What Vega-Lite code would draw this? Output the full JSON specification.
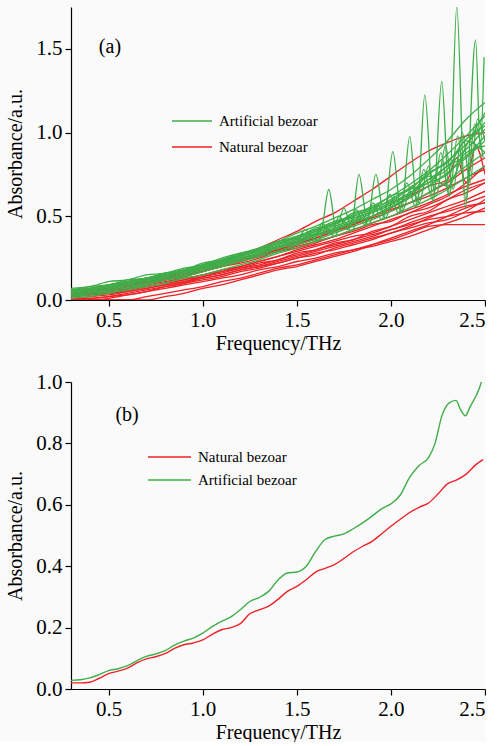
{
"$schema":"https://vega.github.io/schema/vega-lite/v6.json",
"background":"#fafafa",
"padding":{"left":5,"top":7,"right":0,"bottom":0},
"spacing":82,
"bounds":"flush",
"config":{
 "view":{"stroke":null},
 "font":"Liberation Serif",
 "axis":{"grid":false,"domainColor":"#000","tickColor":"#000","labelColor":"#000","titleColor":"#000","labelFont":"Liberation Serif","titleFont":"Liberation Serif","labelFontSize":21,"titleFontSize":20,"titleFontWeight":"normal","tickSize":6,"domainWidth":1.2,"tickWidth":1.2,"labelPadding":3},
 "axisY":{"titlePadding":10},
 "axisX":{"titlePadding":3},
 "legend":{"orient":"none","title":null,"symbolType":"stroke","symbolStrokeWidth":1.5,"labelFont":"Liberation Serif","labelFontSize":15,"labelColor":"#000","labelOffset":6,"clipHeight":16,"padding":0}
},
"resolve":{"scale":{"color":"independent"},"legend":{"color":"independent"}},
"vconcat":[
{
 "width":414,"height":293,
 "layer":[
  {"data":{"name":"a"},"transform":[{"filter":"datum.g=='N'"}],
   "mark":{"type":"line","strokeWidth":1.3,"clip":true,"interpolate":"monotone"},
   "encoding":{
    "x":{"field":"f","type":"quantitative","scale":{"domain":[0.3,2.5],"nice":false,"zero":false},"axis":{"values":[0.5,1,1.5,2,2.5],"format":".1f","title":"Frequency/THz"}},
    "y":{"field":"a","type":"quantitative","scale":{"domain":[0,1.75],"nice":false},"axis":{"values":[0,0.5,1,1.5],"format":".1f","title":"Absorbance/a.u."}},
    "color":{"field":"g","type":"nominal","scale":{"domain":["A","N"],"range":["#3eae49","#ec2227"]},"legend":{"labelExpr":"datum.label=='A'?'Artificial bezoar':'Natural bezoar'","legendX":100,"legendY":106,"symbolSize":1600,"rowPadding":10}},
    "detail":{"field":"s"}}},
  {"data":{"name":"a"},"transform":[{"filter":"datum.g=='A'"}],
   "mark":{"type":"line","strokeWidth":1.3,"clip":true,"interpolate":"monotone"},
   "encoding":{
    "x":{"field":"f","type":"quantitative"},
    "y":{"field":"a","type":"quantitative"},
    "color":{"field":"g","type":"nominal","scale":{"domain":["A","N"],"range":["#3eae49","#ec2227"]},"legend":{"labelExpr":"datum.label=='A'?'Artificial bezoar':'Natural bezoar'","legendX":100,"legendY":106,"symbolSize":1600,"rowPadding":10}},
    "detail":{"field":"s"}}},
  {"data":{"values":[{}]},"mark":{"type":"text","fontSize":20,"font":"Liberation Serif","color":"#000"},
   "encoding":{"x":{"datum":0.507},"y":{"datum":1.512},"text":{"value":"(a)"}}}
 ]
},
{
 "width":414,"height":307,
 "layer":[
  {"data":{"name":"b"},
   "mark":{"type":"line","strokeWidth":1.4,"clip":true,"interpolate":"monotone"},
   "encoding":{
    "x":{"field":"f","type":"quantitative","scale":{"domain":[0.3,2.5],"nice":false,"zero":false},"axis":{"values":[0.5,1,1.5,2,2.5],"format":".1f","title":"Frequency/THz"}},
    "y":{"field":"a","type":"quantitative","scale":{"domain":[0,1],"nice":false},"axis":{"values":[0,0.2,0.4,0.6,0.8,1],"format":".1f","title":"Absorbance/a.u."}},
    "color":{"field":"g","type":"nominal","scale":{"domain":["N","A"],"range":["#ec2227","#3eae49"]},"legend":{"labelExpr":"datum.label=='A'?'Artificial bezoar':'Natural bezoar'","legendX":76,"legendY":67,"symbolSize":1849,"rowPadding":7}},
    "detail":{"field":"s"}}},
  {"data":{"values":[{}]},"mark":{"type":"text","fontSize":20,"font":"Liberation Serif","color":"#000"},
   "encoding":{"x":{"datum":0.598},"y":{"datum":0.893},"text":{"value":"(b)"}}}
 ]
}
],
"datasets":{
"b":[
{"s":"A","g":"A","f":0.3,"a":0.028},{"s":"A","g":"A","f":0.35,"a":0.03},{"s":"A","g":"A","f":0.4,"a":0.036},{"s":"A","g":"A","f":0.45,"a":0.047},{"s":"A","g":"A","f":0.5,"a":0.06},{"s":"A","g":"A","f":0.55,"a":0.066},{"s":"A","g":"A","f":0.6,"a":0.076},{"s":"A","g":"A","f":0.65,"a":0.092},{"s":"A","g":"A","f":0.7,"a":0.106},{"s":"A","g":"A","f":0.75,"a":0.114},{"s":"A","g":"A","f":0.8,"a":0.125},{"s":"A","g":"A","f":0.85,"a":0.143},{"s":"A","g":"A","f":0.9,"a":0.156},{"s":"A","g":"A","f":0.95,"a":0.166},{"s":"A","g":"A","f":1.0,"a":0.182},{"s":"A","g":"A","f":1.05,"a":0.203},{"s":"A","g":"A","f":1.1,"a":0.22},{"s":"A","g":"A","f":1.15,"a":0.235},{"s":"A","g":"A","f":1.2,"a":0.258},{"s":"A","g":"A","f":1.25,"a":0.285},{"s":"A","g":"A","f":1.3,"a":0.298},{"s":"A","g":"A","f":1.35,"a":0.318},{"s":"A","g":"A","f":1.4,"a":0.355},{"s":"A","g":"A","f":1.45,"a":0.378},{"s":"A","g":"A","f":1.5,"a":0.381},{"s":"A","g":"A","f":1.55,"a":0.4},{"s":"A","g":"A","f":1.6,"a":0.448},{"s":"A","g":"A","f":1.65,"a":0.487},{"s":"A","g":"A","f":1.7,"a":0.498},{"s":"A","g":"A","f":1.75,"a":0.505},{"s":"A","g":"A","f":1.8,"a":0.522},{"s":"A","g":"A","f":1.85,"a":0.541},{"s":"A","g":"A","f":1.9,"a":0.563},{"s":"A","g":"A","f":1.95,"a":0.587},{"s":"A","g":"A","f":2.0,"a":0.603},{"s":"A","g":"A","f":2.05,"a":0.632},{"s":"A","g":"A","f":2.1,"a":0.69},{"s":"A","g":"A","f":2.15,"a":0.728},{"s":"A","g":"A","f":2.2,"a":0.754},{"s":"A","g":"A","f":2.235,"a":0.801},{"s":"A","g":"A","f":2.27,"a":0.888},{"s":"A","g":"A","f":2.31,"a":0.932},{"s":"A","g":"A","f":2.346,"a":0.94},{"s":"A","g":"A","f":2.37,"a":0.91},{"s":"A","g":"A","f":2.396,"a":0.89},{"s":"A","g":"A","f":2.42,"a":0.918},{"s":"A","g":"A","f":2.47,"a":0.98},{"s":"A","g":"A","f":2.493,"a":1.024},
{"s":"N","g":"N","f":0.3,"a":0.02},{"s":"N","g":"N","f":0.35,"a":0.02},{"s":"N","g":"N","f":0.4,"a":0.022},{"s":"N","g":"N","f":0.45,"a":0.035},{"s":"N","g":"N","f":0.5,"a":0.05},{"s":"N","g":"N","f":0.55,"a":0.058},{"s":"N","g":"N","f":0.6,"a":0.068},{"s":"N","g":"N","f":0.65,"a":0.085},{"s":"N","g":"N","f":0.7,"a":0.098},{"s":"N","g":"N","f":0.75,"a":0.105},{"s":"N","g":"N","f":0.8,"a":0.115},{"s":"N","g":"N","f":0.85,"a":0.132},{"s":"N","g":"N","f":0.9,"a":0.144},{"s":"N","g":"N","f":0.95,"a":0.15},{"s":"N","g":"N","f":1.0,"a":0.16},{"s":"N","g":"N","f":1.05,"a":0.178},{"s":"N","g":"N","f":1.1,"a":0.193},{"s":"N","g":"N","f":1.15,"a":0.2},{"s":"N","g":"N","f":1.2,"a":0.213},{"s":"N","g":"N","f":1.25,"a":0.245},{"s":"N","g":"N","f":1.3,"a":0.258},{"s":"N","g":"N","f":1.35,"a":0.27},{"s":"N","g":"N","f":1.4,"a":0.292},{"s":"N","g":"N","f":1.45,"a":0.318},{"s":"N","g":"N","f":1.5,"a":0.334},{"s":"N","g":"N","f":1.55,"a":0.356},{"s":"N","g":"N","f":1.6,"a":0.381},{"s":"N","g":"N","f":1.65,"a":0.393},{"s":"N","g":"N","f":1.7,"a":0.405},{"s":"N","g":"N","f":1.75,"a":0.425},{"s":"N","g":"N","f":1.8,"a":0.447},{"s":"N","g":"N","f":1.85,"a":0.465},{"s":"N","g":"N","f":1.9,"a":0.481},{"s":"N","g":"N","f":1.95,"a":0.505},{"s":"N","g":"N","f":2.0,"a":0.53},{"s":"N","g":"N","f":2.05,"a":0.553},{"s":"N","g":"N","f":2.1,"a":0.575},{"s":"N","g":"N","f":2.15,"a":0.592},{"s":"N","g":"N","f":2.2,"a":0.606},{"s":"N","g":"N","f":2.25,"a":0.635},{"s":"N","g":"N","f":2.3,"a":0.668},{"s":"N","g":"N","f":2.35,"a":0.681},{"s":"N","g":"N","f":2.4,"a":0.7},{"s":"N","g":"N","f":2.45,"a":0.73},{"s":"N","g":"N","f":2.49,"a":0.747}
],
"a":[
{"s":"g1","g":"A","f":0.3,"a":0.05},{"s":"g1","g":"A","f":0.4,"a":0.06},{"s":"g1","g":"A","f":0.5,"a":0.08},{"s":"g1","g":"A","f":0.6,"a":0.1},{"s":"g1","g":"A","f":0.7,"a":0.12},{"s":"g1","g":"A","f":0.8,"a":0.15},{"s":"g1","g":"A","f":0.9,"a":0.17},{"s":"g1","g":"A","f":1.0,"a":0.2},{"s":"g1","g":"A","f":1.1,"a":0.23},{"s":"g1","g":"A","f":1.2,"a":0.26},{"s":"g1","g":"A","f":1.3,"a":0.29},{"s":"g1","g":"A","f":1.4,"a":0.32},{"s":"g1","g":"A","f":1.5,"a":0.36},{"s":"g1","g":"A","f":1.58,"a":0.38},{"s":"g1","g":"A","f":1.63,"a":0.42},{"s":"g1","g":"A","f":1.67,"a":0.66},{"s":"g1","g":"A","f":1.71,"a":0.42},{"s":"g1","g":"A","f":1.75,"a":0.55},{"s":"g1","g":"A","f":1.79,"a":0.44},{"s":"g1","g":"A","f":1.83,"a":0.75},{"s":"g1","g":"A","f":1.875,"a":0.47},{"s":"g1","g":"A","f":1.92,"a":0.75},{"s":"g1","g":"A","f":1.965,"a":0.5},{"s":"g1","g":"A","f":2.01,"a":0.886},{"s":"g1","g":"A","f":2.055,"a":0.52},{"s":"g1","g":"A","f":2.1,"a":0.976},{"s":"g1","g":"A","f":2.14,"a":0.55},{"s":"g1","g":"A","f":2.18,"a":1.225},{"s":"g1","g":"A","f":2.225,"a":0.58},{"s":"g1","g":"A","f":2.27,"a":1.305},{"s":"g1","g":"A","f":2.31,"a":0.62},{"s":"g1","g":"A","f":2.35,"a":1.75},{"s":"g1","g":"A","f":2.395,"a":0.55},{"s":"g1","g":"A","f":2.45,"a":1.554},{"s":"g1","g":"A","f":2.475,"a":0.9},{"s":"g1","g":"A","f":2.495,"a":1.45},
{"s":"g2","g":"A","f":0.3,"a":0.07},{"s":"g2","g":"A","f":0.4,"a":0.08},{"s":"g2","g":"A","f":0.5,"a":0.11},{"s":"g2","g":"A","f":0.6,"a":0.12},{"s":"g2","g":"A","f":0.7,"a":0.15},{"s":"g2","g":"A","f":0.8,"a":0.16},{"s":"g2","g":"A","f":0.9,"a":0.19},{"s":"g2","g":"A","f":1.0,"a":0.21},{"s":"g2","g":"A","f":1.1,"a":0.25},{"s":"g2","g":"A","f":1.2,"a":0.28},{"s":"g2","g":"A","f":1.3,"a":0.31},{"s":"g2","g":"A","f":1.4,"a":0.35},{"s":"g2","g":"A","f":1.5,"a":0.4},{"s":"g2","g":"A","f":1.6,"a":0.44},{"s":"g2","g":"A","f":1.7,"a":0.49},{"s":"g2","g":"A","f":1.8,"a":0.54},{"s":"g2","g":"A","f":1.9,"a":0.6},{"s":"g2","g":"A","f":2.0,"a":0.66},{"s":"g2","g":"A","f":2.1,"a":0.74},{"s":"g2","g":"A","f":2.2,"a":0.84},{"s":"g2","g":"A","f":2.3,"a":0.95},{"s":"g2","g":"A","f":2.4,"a":1.08},{"s":"g2","g":"A","f":2.5,"a":1.18},
{"s":"g3","g":"A","f":0.3,"a":0.05},{"s":"g3","g":"A","f":0.4,"a":0.07},{"s":"g3","g":"A","f":0.5,"a":0.09},{"s":"g3","g":"A","f":0.6,"a":0.11},{"s":"g3","g":"A","f":0.7,"a":0.13},{"s":"g3","g":"A","f":0.8,"a":0.15},{"s":"g3","g":"A","f":0.9,"a":0.18},{"s":"g3","g":"A","f":1.0,"a":0.21},{"s":"g3","g":"A","f":1.1,"a":0.23},{"s":"g3","g":"A","f":1.2,"a":0.27},{"s":"g3","g":"A","f":1.3,"a":0.3},{"s":"g3","g":"A","f":1.4,"a":0.33},{"s":"g3","g":"A","f":1.5,"a":0.38},{"s":"g3","g":"A","f":1.6,"a":0.42},{"s":"g3","g":"A","f":1.7,"a":0.46},{"s":"g3","g":"A","f":1.8,"a":0.51},{"s":"g3","g":"A","f":1.9,"a":0.56},{"s":"g3","g":"A","f":2.0,"a":0.62},{"s":"g3","g":"A","f":2.1,"a":0.69},{"s":"g3","g":"A","f":2.2,"a":0.77},{"s":"g3","g":"A","f":2.3,"a":0.87},{"s":"g3","g":"A","f":2.4,"a":0.98},{"s":"g3","g":"A","f":2.5,"a":1.1},
{"s":"g4","g":"A","f":0.3,"a":0.04},{"s":"g4","g":"A","f":0.4,"a":0.05},{"s":"g4","g":"A","f":0.5,"a":0.07},{"s":"g4","g":"A","f":0.6,"a":0.1},{"s":"g4","g":"A","f":0.7,"a":0.12},{"s":"g4","g":"A","f":0.8,"a":0.14},{"s":"g4","g":"A","f":0.9,"a":0.17},{"s":"g4","g":"A","f":1.0,"a":0.19},{"s":"g4","g":"A","f":1.1,"a":0.22},{"s":"g4","g":"A","f":1.2,"a":0.26},{"s":"g4","g":"A","f":1.3,"a":0.29},{"s":"g4","g":"A","f":1.4,"a":0.33},{"s":"g4","g":"A","f":1.5,"a":0.36},{"s":"g4","g":"A","f":1.6,"a":0.4},{"s":"g4","g":"A","f":1.7,"a":0.44},{"s":"g4","g":"A","f":1.8,"a":0.48},{"s":"g4","g":"A","f":1.9,"a":0.53},{"s":"g4","g":"A","f":2.0,"a":0.58},{"s":"g4","g":"A","f":2.1,"a":0.64},{"s":"g4","g":"A","f":2.2,"a":0.72},{"s":"g4","g":"A","f":2.3,"a":0.8},{"s":"g4","g":"A","f":2.4,"a":0.9},{"s":"g4","g":"A","f":2.5,"a":1.02},
{"s":"g5","g":"A","f":0.3,"a":0.03},{"s":"g5","g":"A","f":0.4,"a":0.04},{"s":"g5","g":"A","f":0.5,"a":0.06},{"s":"g5","g":"A","f":0.6,"a":0.08},{"s":"g5","g":"A","f":0.7,"a":0.1},{"s":"g5","g":"A","f":0.8,"a":0.13},{"s":"g5","g":"A","f":0.9,"a":0.15},{"s":"g5","g":"A","f":1.0,"a":0.18},{"s":"g5","g":"A","f":1.1,"a":0.21},{"s":"g5","g":"A","f":1.2,"a":0.24},{"s":"g5","g":"A","f":1.3,"a":0.27},{"s":"g5","g":"A","f":1.4,"a":0.31},{"s":"g5","g":"A","f":1.5,"a":0.34},{"s":"g5","g":"A","f":1.6,"a":0.38},{"s":"g5","g":"A","f":1.7,"a":0.42},{"s":"g5","g":"A","f":1.8,"a":0.46},{"s":"g5","g":"A","f":1.9,"a":0.5},{"s":"g5","g":"A","f":2.0,"a":0.55},{"s":"g5","g":"A","f":2.1,"a":0.61},{"s":"g5","g":"A","f":2.2,"a":0.68},{"s":"g5","g":"A","f":2.3,"a":0.76},{"s":"g5","g":"A","f":2.4,"a":0.85},{"s":"g5","g":"A","f":2.5,"a":0.95},
{"s":"g6","g":"A","f":0.3,"a":0.02},{"s":"g6","g":"A","f":0.4,"a":0.04},{"s":"g6","g":"A","f":0.5,"a":0.05},{"s":"g6","g":"A","f":0.6,"a":0.07},{"s":"g6","g":"A","f":0.7,"a":0.09},{"s":"g6","g":"A","f":0.8,"a":0.12},{"s":"g6","g":"A","f":0.9,"a":0.14},{"s":"g6","g":"A","f":1.0,"a":0.17},{"s":"g6","g":"A","f":1.1,"a":0.2},{"s":"g6","g":"A","f":1.2,"a":0.23},{"s":"g6","g":"A","f":1.3,"a":0.26},{"s":"g6","g":"A","f":1.4,"a":0.29},{"s":"g6","g":"A","f":1.5,"a":0.33},{"s":"g6","g":"A","f":1.6,"a":0.36},{"s":"g6","g":"A","f":1.7,"a":0.4},{"s":"g6","g":"A","f":1.8,"a":0.44},{"s":"g6","g":"A","f":1.9,"a":0.48},{"s":"g6","g":"A","f":2.0,"a":0.53},{"s":"g6","g":"A","f":2.1,"a":0.58},{"s":"g6","g":"A","f":2.2,"a":0.64},{"s":"g6","g":"A","f":2.3,"a":0.71},{"s":"g6","g":"A","f":2.4,"a":0.8},{"s":"g6","g":"A","f":2.5,"a":0.88},
{"s":"g7","g":"A","f":0.3,"a":0.06},{"s":"g7","g":"A","f":0.4,"a":0.07},{"s":"g7","g":"A","f":0.5,"a":0.09},{"s":"g7","g":"A","f":0.6,"a":0.11},{"s":"g7","g":"A","f":0.7,"a":0.13},{"s":"g7","g":"A","f":0.8,"a":0.16},{"s":"g7","g":"A","f":0.9,"a":0.18},{"s":"g7","g":"A","f":1.0,"a":0.21},{"s":"g7","g":"A","f":1.1,"a":0.24},{"s":"g7","g":"A","f":1.2,"a":0.27},{"s":"g7","g":"A","f":1.3,"a":0.31},{"s":"g7","g":"A","f":1.4,"a":0.35},{"s":"g7","g":"A","f":1.5,"a":0.38},{"s":"g7","g":"A","f":1.6,"a":0.42},{"s":"g7","g":"A","f":1.7,"a":0.47},{"s":"g7","g":"A","f":1.8,"a":0.5},{"s":"g7","g":"A","f":1.9,"a":0.55},{"s":"g7","g":"A","f":2.0,"a":0.59},{"s":"g7","g":"A","f":2.1,"a":0.66},{"s":"g7","g":"A","f":2.2,"a":0.7},{"s":"g7","g":"A","f":2.3,"a":0.8},{"s":"g7","g":"A","f":2.4,"a":0.86},{"s":"g7","g":"A","f":2.5,"a":0.98},
{"s":"g8","g":"A","f":0.3,"a":0.01},{"s":"g8","g":"A","f":0.4,"a":0.02},{"s":"g8","g":"A","f":0.5,"a":0.04},{"s":"g8","g":"A","f":0.6,"a":0.06},{"s":"g8","g":"A","f":0.7,"a":0.08},{"s":"g8","g":"A","f":0.8,"a":0.1},{"s":"g8","g":"A","f":0.9,"a":0.13},{"s":"g8","g":"A","f":1.0,"a":0.15},{"s":"g8","g":"A","f":1.1,"a":0.18},{"s":"g8","g":"A","f":1.2,"a":0.21},{"s":"g8","g":"A","f":1.3,"a":0.24},{"s":"g8","g":"A","f":1.4,"a":0.28},{"s":"g8","g":"A","f":1.5,"a":0.31},{"s":"g8","g":"A","f":1.6,"a":0.35},{"s":"g8","g":"A","f":1.7,"a":0.38},{"s":"g8","g":"A","f":1.8,"a":0.42},{"s":"g8","g":"A","f":1.9,"a":0.46},{"s":"g8","g":"A","f":2.0,"a":0.5},{"s":"g8","g":"A","f":2.1,"a":0.55},{"s":"g8","g":"A","f":2.2,"a":0.6},{"s":"g8","g":"A","f":2.3,"a":0.66},{"s":"g8","g":"A","f":2.4,"a":0.73},{"s":"g8","g":"A","f":2.5,"a":0.8},
{"s":"g9","g":"A","f":0.3,"a":0.04},{"s":"g9","g":"A","f":0.4,"a":0.06},{"s":"g9","g":"A","f":0.5,"a":0.08},{"s":"g9","g":"A","f":0.6,"a":0.1},{"s":"g9","g":"A","f":0.7,"a":0.11},{"s":"g9","g":"A","f":0.8,"a":0.14},{"s":"g9","g":"A","f":0.9,"a":0.16},{"s":"g9","g":"A","f":1.0,"a":0.19},{"s":"g9","g":"A","f":1.1,"a":0.22},{"s":"g9","g":"A","f":1.2,"a":0.25},{"s":"g9","g":"A","f":1.3,"a":0.28},{"s":"g9","g":"A","f":1.4,"a":0.32},{"s":"g9","g":"A","f":1.5,"a":0.35},{"s":"g9","g":"A","f":1.6,"a":0.39},{"s":"g9","g":"A","f":1.7,"a":0.43},{"s":"g9","g":"A","f":1.8,"a":0.47},{"s":"g9","g":"A","f":1.9,"a":0.52},{"s":"g9","g":"A","f":2.0,"a":0.57},{"s":"g9","g":"A","f":2.1,"a":0.63},{"s":"g9","g":"A","f":2.2,"a":0.7},{"s":"g9","g":"A","f":2.3,"a":0.75},{"s":"g9","g":"A","f":2.4,"a":0.88},{"s":"g9","g":"A","f":2.5,"a":0.92},
{"s":"g10","g":"A","f":0.3,"a":0.03},{"s":"g10","g":"A","f":0.4,"a":0.05},{"s":"g10","g":"A","f":0.5,"a":0.07},{"s":"g10","g":"A","f":0.6,"a":0.09},{"s":"g10","g":"A","f":0.7,"a":0.12},{"s":"g10","g":"A","f":0.8,"a":0.14},{"s":"g10","g":"A","f":0.9,"a":0.17},{"s":"g10","g":"A","f":1.0,"a":0.2},{"s":"g10","g":"A","f":1.1,"a":0.23},{"s":"g10","g":"A","f":1.2,"a":0.26},{"s":"g10","g":"A","f":1.3,"a":0.3},{"s":"g10","g":"A","f":1.4,"a":0.34},{"s":"g10","g":"A","f":1.5,"a":0.37},{"s":"g10","g":"A","f":1.6,"a":0.41},{"s":"g10","g":"A","f":1.7,"a":0.45},{"s":"g10","g":"A","f":1.8,"a":0.5},{"s":"g10","g":"A","f":1.9,"a":0.54},{"s":"g10","g":"A","f":2.0,"a":0.6},{"s":"g10","g":"A","f":2.1,"a":0.67},{"s":"g10","g":"A","f":2.2,"a":0.75},{"s":"g10","g":"A","f":2.3,"a":0.83},{"s":"g10","g":"A","f":2.4,"a":0.93},{"s":"g10","g":"A","f":2.5,"a":1.06},
{"s":"g11","g":"A","f":0.3,"a":0.05},{"s":"g11","g":"A","f":0.4,"a":0.06},{"s":"g11","g":"A","f":0.5,"a":0.08},{"s":"g11","g":"A","f":0.6,"a":0.1},{"s":"g11","g":"A","f":0.7,"a":0.12},{"s":"g11","g":"A","f":0.8,"a":0.14},{"s":"g11","g":"A","f":0.9,"a":0.17},{"s":"g11","g":"A","f":1.0,"a":0.19},{"s":"g11","g":"A","f":1.1,"a":0.22},{"s":"g11","g":"A","f":1.2,"a":0.25},{"s":"g11","g":"A","f":1.3,"a":0.28},{"s":"g11","g":"A","f":1.4,"a":0.31},{"s":"g11","g":"A","f":1.5,"a":0.35},{"s":"g11","g":"A","f":1.545,"a":0.42},{"s":"g11","g":"A","f":1.59,"a":0.36},{"s":"g11","g":"A","f":1.635,"a":0.46},{"s":"g11","g":"A","f":1.68,"a":0.39},{"s":"g11","g":"A","f":1.725,"a":0.5},{"s":"g11","g":"A","f":1.77,"a":0.42},{"s":"g11","g":"A","f":1.815,"a":0.54},{"s":"g11","g":"A","f":1.86,"a":0.45},{"s":"g11","g":"A","f":1.905,"a":0.58},{"s":"g11","g":"A","f":1.95,"a":0.48},{"s":"g11","g":"A","f":1.995,"a":0.63},{"s":"g11","g":"A","f":2.04,"a":0.52},{"s":"g11","g":"A","f":2.085,"a":0.7},{"s":"g11","g":"A","f":2.13,"a":0.56},{"s":"g11","g":"A","f":2.175,"a":0.78},{"s":"g11","g":"A","f":2.22,"a":0.6},{"s":"g11","g":"A","f":2.265,"a":0.88},{"s":"g11","g":"A","f":2.31,"a":0.62},{"s":"g11","g":"A","f":2.355,"a":0.98},{"s":"g11","g":"A","f":2.4,"a":0.6},{"s":"g11","g":"A","f":2.445,"a":1.05},{"s":"g11","g":"A","f":2.49,"a":0.85},
{"s":"g12","g":"A","f":0.3,"a":0.02},{"s":"g12","g":"A","f":0.4,"a":0.03},{"s":"g12","g":"A","f":0.5,"a":0.05},{"s":"g12","g":"A","f":0.6,"a":0.07},{"s":"g12","g":"A","f":0.7,"a":0.09},{"s":"g12","g":"A","f":0.8,"a":0.12},{"s":"g12","g":"A","f":0.9,"a":0.14},{"s":"g12","g":"A","f":1.0,"a":0.17},{"s":"g12","g":"A","f":1.1,"a":0.2},{"s":"g12","g":"A","f":1.2,"a":0.23},{"s":"g12","g":"A","f":1.3,"a":0.26},{"s":"g12","g":"A","f":1.4,"a":0.29},{"s":"g12","g":"A","f":1.5,"a":0.33},{"s":"g12","g":"A","f":1.57,"a":0.39},{"s":"g12","g":"A","f":1.61,"a":0.35},{"s":"g12","g":"A","f":1.66,"a":0.43},{"s":"g12","g":"A","f":1.7,"a":0.38},{"s":"g12","g":"A","f":1.75,"a":0.47},{"s":"g12","g":"A","f":1.79,"a":0.41},{"s":"g12","g":"A","f":1.84,"a":0.52},{"s":"g12","g":"A","f":1.88,"a":0.45},{"s":"g12","g":"A","f":1.93,"a":0.57},{"s":"g12","g":"A","f":1.97,"a":0.49},{"s":"g12","g":"A","f":2.02,"a":0.62},{"s":"g12","g":"A","f":2.06,"a":0.53},{"s":"g12","g":"A","f":2.11,"a":0.68},{"s":"g12","g":"A","f":2.15,"a":0.58},{"s":"g12","g":"A","f":2.2,"a":0.8},{"s":"g12","g":"A","f":2.24,"a":0.62},{"s":"g12","g":"A","f":2.29,"a":0.92},{"s":"g12","g":"A","f":2.33,"a":0.66},{"s":"g12","g":"A","f":2.38,"a":1.0},{"s":"g12","g":"A","f":2.42,"a":0.7},{"s":"g12","g":"A","f":2.46,"a":1.08},{"s":"g12","g":"A","f":2.5,"a":0.95},
{"s":"g13","g":"A","f":0.3,"a":0.05},{"s":"g13","g":"A","f":0.4,"a":0.06},{"s":"g13","g":"A","f":0.5,"a":0.08},{"s":"g13","g":"A","f":0.6,"a":0.1},{"s":"g13","g":"A","f":0.7,"a":0.13},{"s":"g13","g":"A","f":0.8,"a":0.15},{"s":"g13","g":"A","f":0.9,"a":0.18},{"s":"g13","g":"A","f":1.0,"a":0.2},{"s":"g13","g":"A","f":1.1,"a":0.24},{"s":"g13","g":"A","f":1.2,"a":0.27},{"s":"g13","g":"A","f":1.3,"a":0.3},{"s":"g13","g":"A","f":1.4,"a":0.34},{"s":"g13","g":"A","f":1.5,"a":0.37},{"s":"g13","g":"A","f":1.6,"a":0.41},{"s":"g13","g":"A","f":1.7,"a":0.46},{"s":"g13","g":"A","f":1.8,"a":0.49},{"s":"g13","g":"A","f":1.9,"a":0.53},{"s":"g13","g":"A","f":2.0,"a":0.58},{"s":"g13","g":"A","f":2.1,"a":0.63},{"s":"g13","g":"A","f":2.2,"a":0.72},{"s":"g13","g":"A","f":2.3,"a":0.78},{"s":"g13","g":"A","f":2.4,"a":0.95},{"s":"g13","g":"A","f":2.5,"a":0.88},
{"s":"g14","g":"A","f":0.3,"a":0.06},{"s":"g14","g":"A","f":0.4,"a":0.08},{"s":"g14","g":"A","f":0.5,"a":0.09},{"s":"g14","g":"A","f":0.6,"a":0.12},{"s":"g14","g":"A","f":0.7,"a":0.13},{"s":"g14","g":"A","f":0.8,"a":0.16},{"s":"g14","g":"A","f":0.9,"a":0.18},{"s":"g14","g":"A","f":1.0,"a":0.22},{"s":"g14","g":"A","f":1.1,"a":0.24},{"s":"g14","g":"A","f":1.2,"a":0.28},{"s":"g14","g":"A","f":1.3,"a":0.3},{"s":"g14","g":"A","f":1.4,"a":0.35},{"s":"g14","g":"A","f":1.5,"a":0.37},{"s":"g14","g":"A","f":1.6,"a":0.43},{"s":"g14","g":"A","f":1.7,"a":0.45},{"s":"g14","g":"A","f":1.8,"a":0.52},{"s":"g14","g":"A","f":1.9,"a":0.55},{"s":"g14","g":"A","f":2.0,"a":0.62},{"s":"g14","g":"A","f":2.1,"a":0.66},{"s":"g14","g":"A","f":2.2,"a":0.76},{"s":"g14","g":"A","f":2.3,"a":0.82},{"s":"g14","g":"A","f":2.4,"a":0.96},{"s":"g14","g":"A","f":2.5,"a":1.04},
{"s":"g15","g":"A","f":0.3,"a":0.03},{"s":"g15","g":"A","f":0.4,"a":0.05},{"s":"g15","g":"A","f":0.5,"a":0.06},{"s":"g15","g":"A","f":0.6,"a":0.09},{"s":"g15","g":"A","f":0.7,"a":0.1},{"s":"g15","g":"A","f":0.8,"a":0.13},{"s":"g15","g":"A","f":0.9,"a":0.15},{"s":"g15","g":"A","f":1.0,"a":0.19},{"s":"g15","g":"A","f":1.1,"a":0.21},{"s":"g15","g":"A","f":1.2,"a":0.25},{"s":"g15","g":"A","f":1.3,"a":0.27},{"s":"g15","g":"A","f":1.4,"a":0.31},{"s":"g15","g":"A","f":1.5,"a":0.34},{"s":"g15","g":"A","f":1.6,"a":0.39},{"s":"g15","g":"A","f":1.7,"a":0.41},{"s":"g15","g":"A","f":1.8,"a":0.47},{"s":"g15","g":"A","f":1.9,"a":0.5},{"s":"g15","g":"A","f":2.0,"a":0.56},{"s":"g15","g":"A","f":2.1,"a":0.62},{"s":"g15","g":"A","f":2.2,"a":0.74},{"s":"g15","g":"A","f":2.3,"a":0.68},{"s":"g15","g":"A","f":2.4,"a":0.92},{"s":"g15","g":"A","f":2.5,"a":1.12},
{"s":"r1","g":"N","f":0.3,"a":0.0},{"s":"r1","g":"N","f":0.4,"a":0.0},{"s":"r1","g":"N","f":0.5,"a":0.0},{"s":"r1","g":"N","f":0.6,"a":0.0},{"s":"r1","g":"N","f":0.7,"a":0.02},{"s":"r1","g":"N","f":0.8,"a":0.04},{"s":"r1","g":"N","f":0.9,"a":0.06},{"s":"r1","g":"N","f":1.0,"a":0.08},{"s":"r1","g":"N","f":1.1,"a":0.11},{"s":"r1","g":"N","f":1.2,"a":0.13},{"s":"r1","g":"N","f":1.3,"a":0.16},{"s":"r1","g":"N","f":1.4,"a":0.19},{"s":"r1","g":"N","f":1.5,"a":0.21},{"s":"r1","g":"N","f":1.6,"a":0.24},{"s":"r1","g":"N","f":1.7,"a":0.27},{"s":"r1","g":"N","f":1.8,"a":0.3},{"s":"r1","g":"N","f":1.9,"a":0.33},{"s":"r1","g":"N","f":2.0,"a":0.36},{"s":"r1","g":"N","f":2.1,"a":0.4},{"s":"r1","g":"N","f":2.2,"a":0.44},{"s":"r1","g":"N","f":2.3,"a":0.45},{"s":"r1","g":"N","f":2.4,"a":0.45},{"s":"r1","g":"N","f":2.5,"a":0.45},
{"s":"r2","g":"N","f":0.3,"a":0.01},{"s":"r2","g":"N","f":0.4,"a":0.01},{"s":"r2","g":"N","f":0.5,"a":0.02},{"s":"r2","g":"N","f":0.6,"a":0.03},{"s":"r2","g":"N","f":0.7,"a":0.05},{"s":"r2","g":"N","f":0.8,"a":0.07},{"s":"r2","g":"N","f":0.9,"a":0.09},{"s":"r2","g":"N","f":1.0,"a":0.11},{"s":"r2","g":"N","f":1.1,"a":0.13},{"s":"r2","g":"N","f":1.2,"a":0.15},{"s":"r2","g":"N","f":1.3,"a":0.18},{"s":"r2","g":"N","f":1.4,"a":0.2},{"s":"r2","g":"N","f":1.5,"a":0.23},{"s":"r2","g":"N","f":1.6,"a":0.25},{"s":"r2","g":"N","f":1.7,"a":0.28},{"s":"r2","g":"N","f":1.8,"a":0.3},{"s":"r2","g":"N","f":1.9,"a":0.32},{"s":"r2","g":"N","f":2.0,"a":0.35},{"s":"r2","g":"N","f":2.1,"a":0.38},{"s":"r2","g":"N","f":2.2,"a":0.42},{"s":"r2","g":"N","f":2.3,"a":0.46},{"s":"r2","g":"N","f":2.4,"a":0.5},{"s":"r2","g":"N","f":2.5,"a":0.55},
{"s":"r3","g":"N","f":0.3,"a":0.02},{"s":"r3","g":"N","f":0.4,"a":0.03},{"s":"r3","g":"N","f":0.5,"a":0.04},{"s":"r3","g":"N","f":0.6,"a":0.05},{"s":"r3","g":"N","f":0.7,"a":0.07},{"s":"r3","g":"N","f":0.8,"a":0.09},{"s":"r3","g":"N","f":0.9,"a":0.11},{"s":"r3","g":"N","f":1.0,"a":0.13},{"s":"r3","g":"N","f":1.1,"a":0.15},{"s":"r3","g":"N","f":1.2,"a":0.18},{"s":"r3","g":"N","f":1.3,"a":0.2},{"s":"r3","g":"N","f":1.4,"a":0.22},{"s":"r3","g":"N","f":1.5,"a":0.25},{"s":"r3","g":"N","f":1.6,"a":0.28},{"s":"r3","g":"N","f":1.7,"a":0.3},{"s":"r3","g":"N","f":1.8,"a":0.33},{"s":"r3","g":"N","f":1.9,"a":0.36},{"s":"r3","g":"N","f":2.0,"a":0.4},{"s":"r3","g":"N","f":2.1,"a":0.43},{"s":"r3","g":"N","f":2.2,"a":0.46},{"s":"r3","g":"N","f":2.3,"a":0.48},{"s":"r3","g":"N","f":2.4,"a":0.53},{"s":"r3","g":"N","f":2.5,"a":0.6},
{"s":"r4","g":"N","f":0.3,"a":0.03},{"s":"r4","g":"N","f":0.4,"a":0.04},{"s":"r4","g":"N","f":0.5,"a":0.05},{"s":"r4","g":"N","f":0.6,"a":0.07},{"s":"r4","g":"N","f":0.7,"a":0.09},{"s":"r4","g":"N","f":0.8,"a":0.11},{"s":"r4","g":"N","f":0.9,"a":0.13},{"s":"r4","g":"N","f":1.0,"a":0.15},{"s":"r4","g":"N","f":1.1,"a":0.18},{"s":"r4","g":"N","f":1.2,"a":0.2},{"s":"r4","g":"N","f":1.3,"a":0.23},{"s":"r4","g":"N","f":1.4,"a":0.26},{"s":"r4","g":"N","f":1.5,"a":0.29},{"s":"r4","g":"N","f":1.6,"a":0.32},{"s":"r4","g":"N","f":1.7,"a":0.35},{"s":"r4","g":"N","f":1.8,"a":0.38},{"s":"r4","g":"N","f":1.9,"a":0.4},{"s":"r4","g":"N","f":2.0,"a":0.44},{"s":"r4","g":"N","f":2.1,"a":0.48},{"s":"r4","g":"N","f":2.2,"a":0.52},{"s":"r4","g":"N","f":2.3,"a":0.56},{"s":"r4","g":"N","f":2.4,"a":0.6},{"s":"r4","g":"N","f":2.5,"a":0.65},
{"s":"r5","g":"N","f":0.3,"a":0.0},{"s":"r5","g":"N","f":0.4,"a":0.0},{"s":"r5","g":"N","f":0.5,"a":0.01},{"s":"r5","g":"N","f":0.6,"a":0.03},{"s":"r5","g":"N","f":0.7,"a":0.05},{"s":"r5","g":"N","f":0.8,"a":0.08},{"s":"r5","g":"N","f":0.9,"a":0.1},{"s":"r5","g":"N","f":1.0,"a":0.12},{"s":"r5","g":"N","f":1.1,"a":0.14},{"s":"r5","g":"N","f":1.2,"a":0.17},{"s":"r5","g":"N","f":1.3,"a":0.19},{"s":"r5","g":"N","f":1.4,"a":0.22},{"s":"r5","g":"N","f":1.5,"a":0.25},{"s":"r5","g":"N","f":1.6,"a":0.27},{"s":"r5","g":"N","f":1.7,"a":0.31},{"s":"r5","g":"N","f":1.8,"a":0.34},{"s":"r5","g":"N","f":1.9,"a":0.37},{"s":"r5","g":"N","f":2.0,"a":0.4},{"s":"r5","g":"N","f":2.1,"a":0.44},{"s":"r5","g":"N","f":2.2,"a":0.49},{"s":"r5","g":"N","f":2.3,"a":0.54},{"s":"r5","g":"N","f":2.4,"a":0.58},{"s":"r5","g":"N","f":2.5,"a":0.62},
{"s":"r6","g":"N","f":0.3,"a":0.04},{"s":"r6","g":"N","f":0.4,"a":0.05},{"s":"r6","g":"N","f":0.5,"a":0.07},{"s":"r6","g":"N","f":0.6,"a":0.09},{"s":"r6","g":"N","f":0.7,"a":0.11},{"s":"r6","g":"N","f":0.8,"a":0.13},{"s":"r6","g":"N","f":0.9,"a":0.15},{"s":"r6","g":"N","f":1.0,"a":0.17},{"s":"r6","g":"N","f":1.1,"a":0.2},{"s":"r6","g":"N","f":1.2,"a":0.23},{"s":"r6","g":"N","f":1.3,"a":0.26},{"s":"r6","g":"N","f":1.4,"a":0.29},{"s":"r6","g":"N","f":1.5,"a":0.32},{"s":"r6","g":"N","f":1.6,"a":0.35},{"s":"r6","g":"N","f":1.7,"a":0.38},{"s":"r6","g":"N","f":1.8,"a":0.42},{"s":"r6","g":"N","f":1.9,"a":0.46},{"s":"r6","g":"N","f":2.0,"a":0.5},{"s":"r6","g":"N","f":2.1,"a":0.54},{"s":"r6","g":"N","f":2.2,"a":0.58},{"s":"r6","g":"N","f":2.3,"a":0.63},{"s":"r6","g":"N","f":2.4,"a":0.68},{"s":"r6","g":"N","f":2.5,"a":0.72},
{"s":"r7","g":"N","f":0.3,"a":0.05},{"s":"r7","g":"N","f":0.4,"a":0.06},{"s":"r7","g":"N","f":0.5,"a":0.08},{"s":"r7","g":"N","f":0.6,"a":0.1},{"s":"r7","g":"N","f":0.7,"a":0.12},{"s":"r7","g":"N","f":0.8,"a":0.14},{"s":"r7","g":"N","f":0.9,"a":0.17},{"s":"r7","g":"N","f":1.0,"a":0.19},{"s":"r7","g":"N","f":1.1,"a":0.22},{"s":"r7","g":"N","f":1.2,"a":0.25},{"s":"r7","g":"N","f":1.3,"a":0.28},{"s":"r7","g":"N","f":1.4,"a":0.32},{"s":"r7","g":"N","f":1.5,"a":0.35},{"s":"r7","g":"N","f":1.6,"a":0.39},{"s":"r7","g":"N","f":1.7,"a":0.42},{"s":"r7","g":"N","f":1.8,"a":0.46},{"s":"r7","g":"N","f":1.9,"a":0.5},{"s":"r7","g":"N","f":2.0,"a":0.54},{"s":"r7","g":"N","f":2.1,"a":0.58},{"s":"r7","g":"N","f":2.2,"a":0.62},{"s":"r7","g":"N","f":2.3,"a":0.67},{"s":"r7","g":"N","f":2.4,"a":0.73},{"s":"r7","g":"N","f":2.5,"a":0.78},
{"s":"r8","g":"N","f":0.3,"a":0.06},{"s":"r8","g":"N","f":0.4,"a":0.07},{"s":"r8","g":"N","f":0.5,"a":0.09},{"s":"r8","g":"N","f":0.6,"a":0.11},{"s":"r8","g":"N","f":0.7,"a":0.13},{"s":"r8","g":"N","f":0.8,"a":0.15},{"s":"r8","g":"N","f":0.9,"a":0.17},{"s":"r8","g":"N","f":1.0,"a":0.2},{"s":"r8","g":"N","f":1.1,"a":0.23},{"s":"r8","g":"N","f":1.2,"a":0.27},{"s":"r8","g":"N","f":1.3,"a":0.31},{"s":"r8","g":"N","f":1.4,"a":0.36},{"s":"r8","g":"N","f":1.5,"a":0.41},{"s":"r8","g":"N","f":1.6,"a":0.47},{"s":"r8","g":"N","f":1.7,"a":0.52},{"s":"r8","g":"N","f":1.8,"a":0.59},{"s":"r8","g":"N","f":1.9,"a":0.66},{"s":"r8","g":"N","f":2.0,"a":0.74},{"s":"r8","g":"N","f":2.1,"a":0.82},{"s":"r8","g":"N","f":2.2,"a":0.89},{"s":"r8","g":"N","f":2.3,"a":0.94},{"s":"r8","g":"N","f":2.4,"a":0.98},{"s":"r8","g":"N","f":2.5,"a":1.0},
{"s":"r9","g":"N","f":0.3,"a":0.02},{"s":"r9","g":"N","f":0.4,"a":0.03},{"s":"r9","g":"N","f":0.5,"a":0.05},{"s":"r9","g":"N","f":0.6,"a":0.06},{"s":"r9","g":"N","f":0.7,"a":0.08},{"s":"r9","g":"N","f":0.8,"a":0.1},{"s":"r9","g":"N","f":0.9,"a":0.12},{"s":"r9","g":"N","f":1.0,"a":0.15},{"s":"r9","g":"N","f":1.1,"a":0.17},{"s":"r9","g":"N","f":1.2,"a":0.2},{"s":"r9","g":"N","f":1.3,"a":0.23},{"s":"r9","g":"N","f":1.4,"a":0.26},{"s":"r9","g":"N","f":1.5,"a":0.3},{"s":"r9","g":"N","f":1.6,"a":0.33},{"s":"r9","g":"N","f":1.7,"a":0.36},{"s":"r9","g":"N","f":1.8,"a":0.4},{"s":"r9","g":"N","f":1.9,"a":0.44},{"s":"r9","g":"N","f":2.0,"a":0.48},{"s":"r9","g":"N","f":2.1,"a":0.52},{"s":"r9","g":"N","f":2.2,"a":0.57},{"s":"r9","g":"N","f":2.3,"a":0.62},{"s":"r9","g":"N","f":2.4,"a":0.7},{"s":"r9","g":"N","f":2.5,"a":0.8},
{"s":"r10","g":"N","f":0.3,"a":0.0},{"s":"r10","g":"N","f":0.4,"a":0.0},{"s":"r10","g":"N","f":0.5,"a":0.0},{"s":"r10","g":"N","f":0.6,"a":0.0},{"s":"r10","g":"N","f":0.7,"a":0.0},{"s":"r10","g":"N","f":0.8,"a":0.02},{"s":"r10","g":"N","f":0.9,"a":0.04},{"s":"r10","g":"N","f":1.0,"a":0.07},{"s":"r10","g":"N","f":1.1,"a":0.09},{"s":"r10","g":"N","f":1.2,"a":0.12},{"s":"r10","g":"N","f":1.3,"a":0.15},{"s":"r10","g":"N","f":1.4,"a":0.18},{"s":"r10","g":"N","f":1.5,"a":0.2},{"s":"r10","g":"N","f":1.6,"a":0.23},{"s":"r10","g":"N","f":1.7,"a":0.26},{"s":"r10","g":"N","f":1.8,"a":0.29},{"s":"r10","g":"N","f":1.9,"a":0.33},{"s":"r10","g":"N","f":2.0,"a":0.37},{"s":"r10","g":"N","f":2.1,"a":0.41},{"s":"r10","g":"N","f":2.2,"a":0.45},{"s":"r10","g":"N","f":2.3,"a":0.5},{"s":"r10","g":"N","f":2.4,"a":0.55},{"s":"r10","g":"N","f":2.5,"a":0.58},
{"s":"r11","g":"N","f":0.3,"a":0.03},{"s":"r11","g":"N","f":0.4,"a":0.05},{"s":"r11","g":"N","f":0.5,"a":0.06},{"s":"r11","g":"N","f":0.6,"a":0.08},{"s":"r11","g":"N","f":0.7,"a":0.1},{"s":"r11","g":"N","f":0.8,"a":0.12},{"s":"r11","g":"N","f":0.9,"a":0.14},{"s":"r11","g":"N","f":1.0,"a":0.17},{"s":"r11","g":"N","f":1.1,"a":0.2},{"s":"r11","g":"N","f":1.2,"a":0.22},{"s":"r11","g":"N","f":1.3,"a":0.25},{"s":"r11","g":"N","f":1.4,"a":0.29},{"s":"r11","g":"N","f":1.5,"a":0.31},{"s":"r11","g":"N","f":1.6,"a":0.34},{"s":"r11","g":"N","f":1.7,"a":0.38},{"s":"r11","g":"N","f":1.8,"a":0.41},{"s":"r11","g":"N","f":1.9,"a":0.45},{"s":"r11","g":"N","f":2.0,"a":0.47},{"s":"r11","g":"N","f":2.1,"a":0.52},{"s":"r11","g":"N","f":2.2,"a":0.55},{"s":"r11","g":"N","f":2.3,"a":0.6},{"s":"r11","g":"N","f":2.4,"a":0.66},{"s":"r11","g":"N","f":2.5,"a":0.7},
{"s":"r12","g":"N","f":0.3,"a":0.04},{"s":"r12","g":"N","f":0.4,"a":0.05},{"s":"r12","g":"N","f":0.5,"a":0.06},{"s":"r12","g":"N","f":0.6,"a":0.08},{"s":"r12","g":"N","f":0.7,"a":0.1},{"s":"r12","g":"N","f":0.8,"a":0.12},{"s":"r12","g":"N","f":0.9,"a":0.15},{"s":"r12","g":"N","f":1.0,"a":0.17},{"s":"r12","g":"N","f":1.1,"a":0.2},{"s":"r12","g":"N","f":1.2,"a":0.23},{"s":"r12","g":"N","f":1.3,"a":0.27},{"s":"r12","g":"N","f":1.4,"a":0.3},{"s":"r12","g":"N","f":1.5,"a":0.34},{"s":"r12","g":"N","f":1.6,"a":0.37},{"s":"r12","g":"N","f":1.7,"a":0.41},{"s":"r12","g":"N","f":1.8,"a":0.45},{"s":"r12","g":"N","f":1.9,"a":0.5},{"s":"r12","g":"N","f":2.0,"a":0.55},{"s":"r12","g":"N","f":2.1,"a":0.62},{"s":"r12","g":"N","f":2.2,"a":0.68},{"s":"r12","g":"N","f":2.3,"a":0.72},{"s":"r12","g":"N","f":2.35,"a":0.85},{"s":"r12","g":"N","f":2.4,"a":0.7},{"s":"r12","g":"N","f":2.45,"a":0.92},{"s":"r12","g":"N","f":2.5,"a":0.75},
{"s":"r13","g":"N","f":0.3,"a":0.01},{"s":"r13","g":"N","f":0.4,"a":0.02},{"s":"r13","g":"N","f":0.5,"a":0.03},{"s":"r13","g":"N","f":0.6,"a":0.05},{"s":"r13","g":"N","f":0.7,"a":0.07},{"s":"r13","g":"N","f":0.8,"a":0.09},{"s":"r13","g":"N","f":0.9,"a":0.11},{"s":"r13","g":"N","f":1.0,"a":0.14},{"s":"r13","g":"N","f":1.1,"a":0.16},{"s":"r13","g":"N","f":1.2,"a":0.19},{"s":"r13","g":"N","f":1.3,"a":0.21},{"s":"r13","g":"N","f":1.4,"a":0.24},{"s":"r13","g":"N","f":1.5,"a":0.27},{"s":"r13","g":"N","f":1.6,"a":0.3},{"s":"r13","g":"N","f":1.7,"a":0.33},{"s":"r13","g":"N","f":1.8,"a":0.36},{"s":"r13","g":"N","f":1.9,"a":0.39},{"s":"r13","g":"N","f":2.0,"a":0.42},{"s":"r13","g":"N","f":2.1,"a":0.46},{"s":"r13","g":"N","f":2.2,"a":0.5},{"s":"r13","g":"N","f":2.3,"a":0.53},{"s":"r13","g":"N","f":2.4,"a":0.56},{"s":"r13","g":"N","f":2.5,"a":0.58},
{"s":"r14","g":"N","f":0.3,"a":0.05},{"s":"r14","g":"N","f":0.4,"a":0.06},{"s":"r14","g":"N","f":0.5,"a":0.07},{"s":"r14","g":"N","f":0.6,"a":0.09},{"s":"r14","g":"N","f":0.7,"a":0.11},{"s":"r14","g":"N","f":0.8,"a":0.13},{"s":"r14","g":"N","f":0.9,"a":0.16},{"s":"r14","g":"N","f":1.0,"a":0.18},{"s":"r14","g":"N","f":1.1,"a":0.21},{"s":"r14","g":"N","f":1.2,"a":0.24},{"s":"r14","g":"N","f":1.3,"a":0.27},{"s":"r14","g":"N","f":1.4,"a":0.3},{"s":"r14","g":"N","f":1.5,"a":0.33},{"s":"r14","g":"N","f":1.6,"a":0.37},{"s":"r14","g":"N","f":1.7,"a":0.41},{"s":"r14","g":"N","f":1.8,"a":0.45},{"s":"r14","g":"N","f":1.9,"a":0.49},{"s":"r14","g":"N","f":2.0,"a":0.53},{"s":"r14","g":"N","f":2.1,"a":0.58},{"s":"r14","g":"N","f":2.2,"a":0.64},{"s":"r14","g":"N","f":2.3,"a":0.7},{"s":"r14","g":"N","f":2.4,"a":0.78},{"s":"r14","g":"N","f":2.5,"a":0.85},
{"s":"r15","g":"N","f":0.3,"a":0.02},{"s":"r15","g":"N","f":0.4,"a":0.04},{"s":"r15","g":"N","f":0.5,"a":0.04},{"s":"r15","g":"N","f":0.6,"a":0.06},{"s":"r15","g":"N","f":0.7,"a":0.08},{"s":"r15","g":"N","f":0.8,"a":0.1},{"s":"r15","g":"N","f":0.9,"a":0.12},{"s":"r15","g":"N","f":1.0,"a":0.14},{"s":"r15","g":"N","f":1.1,"a":0.17},{"s":"r15","g":"N","f":1.2,"a":0.19},{"s":"r15","g":"N","f":1.3,"a":0.22},{"s":"r15","g":"N","f":1.4,"a":0.24},{"s":"r15","g":"N","f":1.5,"a":0.28},{"s":"r15","g":"N","f":1.6,"a":0.3},{"s":"r15","g":"N","f":1.7,"a":0.34},{"s":"r15","g":"N","f":1.8,"a":0.36},{"s":"r15","g":"N","f":1.9,"a":0.41},{"s":"r15","g":"N","f":2.0,"a":0.44},{"s":"r15","g":"N","f":2.1,"a":0.5},{"s":"r15","g":"N","f":2.2,"a":0.53},{"s":"r15","g":"N","f":2.3,"a":0.6},{"s":"r15","g":"N","f":2.4,"a":0.64},{"s":"r15","g":"N","f":2.5,"a":0.7},
{"s":"r16","g":"N","f":0.3,"a":0.0},{"s":"r16","g":"N","f":0.4,"a":0.01},{"s":"r16","g":"N","f":0.5,"a":0.02},{"s":"r16","g":"N","f":0.6,"a":0.04},{"s":"r16","g":"N","f":0.7,"a":0.06},{"s":"r16","g":"N","f":0.8,"a":0.08},{"s":"r16","g":"N","f":0.9,"a":0.1},{"s":"r16","g":"N","f":1.0,"a":0.13},{"s":"r16","g":"N","f":1.1,"a":0.15},{"s":"r16","g":"N","f":1.2,"a":0.18},{"s":"r16","g":"N","f":1.3,"a":0.2},{"s":"r16","g":"N","f":1.4,"a":0.23},{"s":"r16","g":"N","f":1.5,"a":0.26},{"s":"r16","g":"N","f":1.6,"a":0.29},{"s":"r16","g":"N","f":1.7,"a":0.32},{"s":"r16","g":"N","f":1.8,"a":0.35},{"s":"r16","g":"N","f":1.9,"a":0.38},{"s":"r16","g":"N","f":2.0,"a":0.42},{"s":"r16","g":"N","f":2.1,"a":0.45},{"s":"r16","g":"N","f":2.2,"a":0.48},{"s":"r16","g":"N","f":2.3,"a":0.5},{"s":"r16","g":"N","f":2.4,"a":0.52},{"s":"r16","g":"N","f":2.5,"a":0.53}
]
}
}
